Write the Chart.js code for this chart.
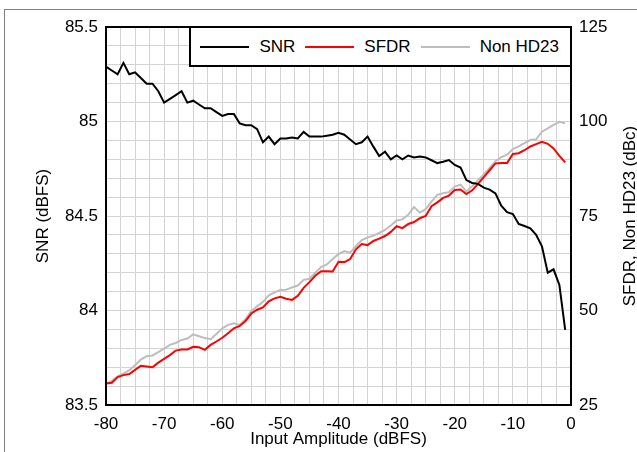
<!DOCTYPE html>
<html><head><meta charset="utf-8">
<script src="https://cdn.jsdelivr.net/npm/chart.js@4.4.1/dist/chart.umd.min.js"></script>
<style>
html,body{margin:0;padding:0;background:#fff;}
#wrap{position:relative;width:637px;height:452px;overflow:hidden;}
#frame{position:absolute;left:4px;top:9px;right:-2px;bottom:-2px;border-left:1px solid #808080;border-top:1px solid #808080;pointer-events:none;}
#legend{position:absolute;left:189px;top:26px;width:383px;height:41px;box-sizing:border-box;border:2px solid #000;background:#fff;display:flex;align-items:center;justify-content:flex-end;padding-right:11px;font:17px 'Liberation Sans',Arial,sans-serif;color:#000;}
.item{display:flex;align-items:center;white-space:nowrap;}
.swatch{width:49px;height:2px;margin-right:10px;}
.item + .item{margin-left:10px;}
</style></head>
<body>
<div id="wrap">
<canvas id="c" width="637" height="452"></canvas>
<div id="frame"></div>
<div id="legend"></div>
</div>
<script>
const inputAmplitude = [-80,-79,-78,-77,-76,-75,-74,-73,-72,-71,
  -70,-69,-68,-67,-66,-65,-64,-63,-62,-61,
  -60,-59,-58,-57,-56,-55,-54,-53,-52,-51,
  -50,-49,-48,-47,-46,-45,-44,-43,-42,-41,
  -40,-39,-38,-37,-36,-35,-34,-33,-32,-31,
  -30,-29,-28,-27,-26,-25,-24,-23,-22,-21,
  -20,-19,-18,-17,-16,-15,-14,-13,-12,-11,
  -10,-9,-8,-7,-6,-5,-4,-3,-2,-1];
const snr = [85.29,85.27,85.25,85.31,85.25,85.26,85.23,85.20,85.20,85.16,
  85.10,85.12,85.14,85.16,85.10,85.11,85.09,85.07,85.07,85.05,
  85.03,85.04,85.04,84.99,84.98,84.98,84.96,84.89,84.92,84.88,
  84.91,84.91,84.915,84.91,84.945,84.92,84.92,84.92,84.925,84.93,
  84.94,84.93,84.905,84.88,84.89,84.92,84.867,84.817,84.84,84.80,
  84.82,84.80,84.82,84.81,84.815,84.81,84.795,84.78,84.787,84.796,
  84.77,84.756,84.69,84.675,84.67,84.65,84.64,84.62,84.555,84.52,
  84.51,84.458,84.447,84.435,84.40,84.34,84.20,84.218,84.135,83.897];
const sfdr = [30.7,30.9,32.4,32.9,33.2,34.3,35.4,35.2,35.0,36.2,
  37.2,38.2,39.4,39.7,39.7,40.4,40.3,39.6,40.9,41.8,
  42.8,44.0,45.3,45.9,47.2,49.2,50.2,50.8,52.4,53.2,
  53.6,53.1,52.8,53.9,56.0,57.5,59.2,60.4,60.4,60.3,
  62.9,62.8,63.6,66.2,67.6,67.3,68.4,69.0,69.7,70.8,
  72.3,71.8,72.9,73.4,74.4,75.0,77.6,78.6,79.8,80.4,
  81.9,82.0,80.8,81.8,83.5,85.3,87.1,88.9,89.0,89.0,
  91.4,91.6,92.4,93.4,94.0,94.6,94.1,92.9,90.9,89.2];
const nonHD23 = [30.6,31.4,32.6,33.3,34.2,35.5,37.0,37.9,38.1,39.0,
  39.9,40.9,41.4,42.2,42.6,43.7,43.2,42.7,42.4,43.8,
  45.3,46.2,46.6,46.2,47.7,49.8,51.1,52.3,54.0,54.8,
  55.4,55.5,56.1,56.6,58.1,58.4,60.0,61.5,62.2,63.6,
  64.9,65.7,65.3,67.0,68.6,69.3,69.8,70.5,71.3,72.5,
  73.8,74.1,75.3,77.4,75.9,76.8,78.8,80.6,81.0,81.3,
  82.8,83.3,81.5,82.9,84.4,86.0,87.7,89.5,90.6,91.2,
  92.7,93.4,94.3,95.1,95.3,97.3,98.2,99.1,99.9,99.5];
const xTickLabels = [-80,-70,-60,-50,-40,-30,-20,-10,0];
const snrTickLabels = [83.5,84,84.5,85,85.5];
const dbcTickLabels = [25,50,75,100,125];

const FONT = "'Liberation Sans', Arial, sans-serif";
Chart.defaults.font.family = FONT;
Chart.defaults.font.size = 17;
Chart.defaults.color = '#000';

const pts = arr => inputAmplitude.map((x, i) => ({x: x, y: arr[i]}));
const near = (list, v) => list.some(t => Math.abs(t - v) < 1e-6);
const GRID = '#d3d3d3';

const framePlugin = {
  id: 'frame',
  afterDatasetsDraw(chart) {
    const {ctx, chartArea: a} = chart;
    ctx.save();
    ctx.strokeStyle = '#000';
    ctx.lineWidth = 2;
    ctx.strokeRect(a.left, a.top, a.right - a.left, a.bottom - a.top);
    ctx.restore();
  },
  afterDraw(chart) {
    const {ctx, chartArea: a} = chart;
    const s = chart.scales.y2;
    ctx.save();
    ctx.font = "17px " + FONT;
    ctx.fillStyle = '#000';
    ctx.textAlign = 'center';
    ctx.textBaseline = 'middle';
    ctx.translate(s.right - 7, (a.top + a.bottom) / 2);
    ctx.rotate(-Math.PI / 2);
    ctx.fillText(chart.options.scales.y2.title.text, 0, 0);
    ctx.restore();
  }
};

const chart = new Chart(document.getElementById('c'), {
  type: 'line',
  data: {
    datasets: [
      {label: 'SNR', data: pts(snr), yAxisID: 'y', borderColor: '#000000', borderWidth: 2},
      {label: 'SFDR', data: pts(sfdr), yAxisID: 'y2', borderColor: '#ff0000', borderWidth: 2},
      {label: 'Non HD23', data: pts(nonHD23), yAxisID: 'y2', borderColor: '#bdbdbd', borderWidth: 2}
    ]
  },
  options: {
    responsive: false,
    animation: false,
    devicePixelRatio: 1,
    elements: {point: {radius: 0}, line: {tension: 0, fill: false}},
    layout: {padding: {top: 27, left: 0, right: 0, bottom: 0}},
    plugins: {legend: {display: false}, tooltip: {enabled: false}},
    scales: {
      x: {
        type: 'linear', position: 'bottom', min: -80, max: 0,
        ticks: {stepSize: 2.5, autoSkip: false, maxRotation: 0, maxTicksLimit: 1000, padding: 9,
          callback: v => near(xTickLabels, v) ? String(Math.round(v)) : ''},
        grid: {color: GRID, lineWidth: 1, drawTicks: false},
        border: {display: false},
        title: {display: true, text: 'Input Amplitude (dBFS)', padding: {top: 0, bottom: 2}},
        afterFit: s => { s.height = 47; }
      },
      y: {
        type: 'linear', position: 'left', min: 83.5, max: 85.5,
        ticks: {stepSize: 0.1, autoSkip: false, maxTicksLimit: 1000, padding: 8,
          callback: v => near(snrTickLabels, v) ? String(+(+v).toFixed(1)) : ''},
        grid: {color: GRID, lineWidth: 1, drawTicks: false},
        border: {display: false},
        title: {display: true, text: 'SNR (dBFS)', padding: {top: 33, bottom: 0}},
        afterFit: s => { s.width = 106; }
      },
      y2: {
        type: 'linear', position: 'right', min: 25, max: 125,
        ticks: {stepSize: 25, autoSkip: false, padding: 8,
          callback: v => near(dbcTickLabels, v) ? String(v) : ''},
        grid: {drawOnChartArea: false, drawTicks: false},
        border: {display: false},
        title: {display: false, text: 'SFDR, Non HD23 (dBc)'},
        afterFit: s => { s.width = 66; }
      }
    }
  },
  plugins: [framePlugin]
});

// HTML legend built from the datasets
const legend = document.getElementById('legend');
chart.data.datasets.forEach(ds => {
  const item = document.createElement('div');
  item.className = 'item';
  const sw = document.createElement('span');
  sw.className = 'swatch';
  sw.style.background = ds.borderColor;
  const tx = document.createElement('span');
  tx.textContent = ds.label;
  item.appendChild(sw);
  item.appendChild(tx);
  legend.appendChild(item);
});
</script>
</body></html>
